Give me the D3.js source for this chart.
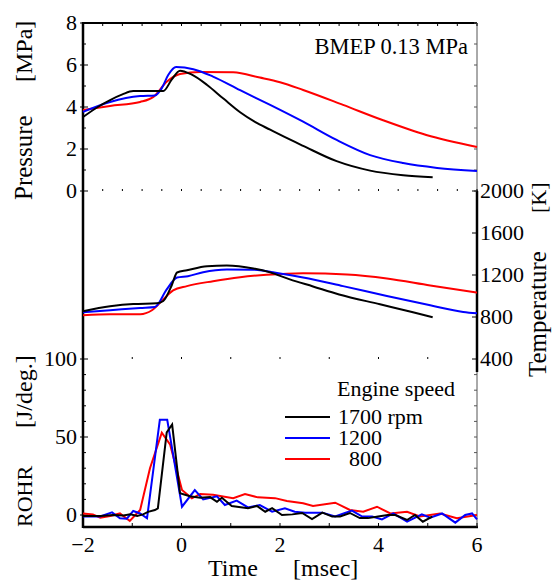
<!DOCTYPE html>
<html>
<head>
<meta charset="utf-8">
<script src="https://cdn.jsdelivr.net/npm/d3@7"></script>
<style>
  body { margin: 0; background: #fff; }
</style>
</head>
<body>
<div id="chart"></div>
<script>
// pressure [MPa] vs time [msec]
const press1700 = [[-2,3.52],[-1.7,4.0],[-1.45,4.33],[-1.2,4.6],[-0.98,4.76],[-0.6,4.76],[-0.37,4.76],[-0.2,5.3],[-0.03,5.73],[0.2,5.55],[0.52,5.05],[0.85,4.4],[1.19,3.75],[1.5,3.28],[1.8,2.92],[2.0,2.68],[2.47,2.15],[3.15,1.42],[3.83,0.97],[4.5,0.75],[5.1,0.65]];
const press1200 = [[-2,3.77],[-1.45,4.24],[-0.84,4.52],[-0.54,4.55],[-0.4,4.9],[-0.27,5.52],[-0.11,5.9],[0.24,5.8],[0.64,5.45],[1.19,4.8],[1.8,4.1],[2.47,3.3],[3.15,2.43],[3.83,1.71],[4.5,1.33],[5.19,1.1],[6,0.95]];
const press800 = [[-2,3.86],[-1.45,4.05],[-0.84,4.24],[-0.57,4.48],[-0.3,5.2],[-0.03,5.57],[0.38,5.67],[1.05,5.65],[1.59,5.4],[2.0,5.18],[2.47,4.81],[3.28,4.1],[4.08,3.38],[4.97,2.67],[6,2.1]];

// temperature [K]
const temp1700 = [[-2,855],[-1.45,902],[-0.98,924],[-0.5,930],[-0.37,952],[-0.2,1100],[-0.09,1224],[0.11,1245],[0.52,1283],[0.92,1290],[1.46,1262],[1.8,1225],[2.2,1158],[2.67,1091],[3.2,1015],[4.03,921],[4.7,845],[5.1,798]];
const temp1200 = [[-2,845],[-1.45,864],[-0.84,886],[-0.54,895],[-0.3,1063],[-0.09,1176],[0.13,1189],[0.44,1227],[0.92,1252],[1.46,1250],[2.0,1215],[2.47,1176],[3.28,1094],[4.17,1000],[5.05,911],[5.72,848],[6,835]];
const temp800 = [[-2,817],[-1.45,826],[-0.84,826],[-0.6,864],[-0.37,968],[-0.17,1053],[0.11,1094],[0.64,1141],[1.19,1179],[1.73,1202],[2.47,1217],[3.36,1205],[4.17,1167],[5.05,1100],[6,1032]];

// rate of heat release [J/deg.]
const rohr1700 = [[-2,-0.6],[-1.65,-0.6],[-1.38,0],[-1.18,-0.3],[-1.04,0.4],[-0.9,-0.6],[-0.78,0.4],[-0.68,2],[-0.54,3.2],[-0.48,4.3],[-0.3,53],[-0.19,58],[-0.03,14],[0.17,12],[0.38,11],[0.58,11.5],[0.72,8.5],[0.82,11],[1.02,5.8],[1.35,4.4],[1.53,5.8],[1.7,2.1],[1.84,4.4],[2.04,0],[2.25,0.4],[2.45,1.3],[2.65,-2.6],[2.86,1.5],[3.06,-1],[3.22,-1],[3.42,1.3],[3.62,-2],[3.79,-2],[3.99,-1],[4.19,0],[4.34,0],[4.58,-3.2],[4.74,0],[4.9,-4.3],[5.09,-1]];
const rohr1200 = [[-2,-1],[-1.65,-1],[-1.41,1.7],[-1.25,-2.1],[-1.11,-2.4],[-0.98,2.6],[-0.84,1],[-0.7,-2.1],[-0.44,61],[-0.29,61],[0.01,5.3],[0.27,16],[0.44,10],[0.72,12],[0.88,6.4],[1.12,9.2],[1.35,4.9],[1.59,6.4],[1.84,2.1],[2.1,4.3],[2.3,2.1],[2.51,1.5],[2.86,1.5],[3.12,-1],[3.32,1.3],[3.46,2.8],[3.67,-1],[3.87,-1],[4.07,-2.8],[4.3,1],[4.58,-4.3],[4.88,0.4],[5.05,-1.7],[5.29,1],[5.56,-4.9],[5.76,0],[5.9,1],[6,-2.8]];
const rohr800 = [[-2,1],[-1.8,0.4],[-1.65,-1.7],[-1.45,-0.6],[-1.25,1],[-1.05,-3.8],[-0.84,3.2],[-0.64,30],[-0.4,52.7],[-0.23,45],[0.01,16],[0.21,10.7],[0.38,13.5],[0.64,13],[1.05,10.8],[1.29,13.4],[1.55,11.3],[1.9,10.8],[2.14,9],[2.47,7.5],[2.67,5.8],[3.12,7.9],[3.42,3.2],[3.69,2.1],[3.97,5.3],[4.24,1],[4.58,2.1],[4.84,-1],[5.25,0.9],[5.59,-2],[6,0]];

const speeds = ["1700 rpm", "1200", "\u2007800"];
const colors = ["#000000", "#0000ff", "#ff0000"];
const timeTicks = [-2, 0, 2, 4, 6];
const pressTicks = [0, 2, 4, 6, 8];
const tempTicks = [400, 800, 1200, 1600, 2000];
const rohrTicks = [0, 50, 100];

const width = 553, height = 581;
const mLeft = 83, mRight = 477, mTop = 23, mBottom = 527;
const fs = 22;   // tick labels, legend
const ft = 24;   // axis titles

const svg = d3.select("#chart").append("svg")
  .attr("width", width)
  .attr("height", height)
  .attr("font-family", "'Liberation Serif', 'DejaVu Serif', serif");

const x = d3.scaleLinear().domain([-2, 6]).range([mLeft, mRight]);
const yP = d3.scaleLinear().domain([0, 8]).range([191, mTop]);
const yT = d3.scaleLinear().domain([400, 2000]).range([359, 191]);
const yR = d3.scaleLinear().domain([0, 100]).range([515, 359]);

function tick(x1, y1, x2, y2, w, c) {
  svg.append("line")
    .attr("x1", x1).attr("y1", y1).attr("x2", x2).attr("y2", y2)
    .attr("stroke", c || "#000").attr("stroke-width", w || 1);
}

// frame lines
tick(mLeft, mTop, mRight, mTop, 2);                  // top
tick(mLeft, mTop - 1, mLeft, mBottom + 1, 2.5);      // left
tick(mLeft, mBottom, mRight + 1, mBottom, 2.5);      // bottom
tick(mRight, mTop, mRight, 191, 1, "#555");          // right, pressure panel
tick(mRight, 191, mRight, 372, 2.5);                 // right, temperature axis
tick(mRight, 372, mRight, mBottom, 1, "#555");       // right, rohr panel

// ticks along x
d3.range(-2, 6.001, 0.4).forEach(t => {
  tick(x(t), mTop, x(t), mTop + 3);
  tick(x(t), 191, x(t), 189);
});
d3.range(-2, 6.001, 1).forEach(t => {
  tick(x(t), 359, x(t), 357);
  tick(x(t), mBottom, x(t), mBottom - 4);
});

// pressure axis ticks
d3.range(0, 8.001, 1).forEach(v => {
  const big = pressTicks.includes(v);
  tick(mLeft - (big ? 3 : 0), yP(v), mLeft + (big ? 5 : 3), yP(v));
  tick(mRight, yP(v), mRight - 3, yP(v), 1, "#555");
});
// temperature axis ticks
tempTicks.forEach(v => tick(mRight - 5, yT(v), mRight + 1, yT(v)));
// rohr axis ticks
d3.range(0, 100.001, 10).forEach(v => {
  const big = rohrTicks.includes(v);
  tick(mLeft - (big ? 3 : 0), yR(v), mLeft + (big ? 5 : 3), yR(v));
  if (v < 100) tick(mRight, yR(v), mRight - 3, yR(v), 1, "#555");
});

// tick labels
svg.selectAll(".pl").data(pressTicks).join("text")
  .attr("x", mLeft - 6).attr("y", d => yP(d) + 7)
  .attr("text-anchor", "end").attr("font-size", fs).text(d => d);
svg.selectAll(".rl").data(rohrTicks).join("text")
  .attr("x", mLeft - 6).attr("y", d => yR(d) + 7)
  .attr("text-anchor", "end").attr("font-size", fs).text(d => d);
svg.selectAll(".tl").data(tempTicks).join("text")
  .attr("x", mRight + 3).attr("y", d => yT(d) + 7)
  .attr("text-anchor", "start").attr("font-size", fs).text(d => d);
svg.selectAll(".xl").data(timeTicks).join("text")
  .attr("x", d => x(d)).attr("y", 552)
  .attr("text-anchor", "middle").attr("font-size", fs)
  .text(d => d < 0 ? "\u2212" + Math.abs(d) : d);

// axis titles
function vlabel(tx, ty, s, size) {
  svg.append("text")
    .attr("transform", `translate(${tx},${ty}) rotate(-90)`)
    .attr("font-size", size).text(s);
}
vlabel(32, 200, "Pressure", 25);
vlabel(32, 82, "[MPa]", 24);
vlabel(32, 527, "ROHR", 22);
vlabel(32, 428, "[J/deg.]", 24);
vlabel(546, 377, "Temperature", 25);
vlabel(546, 213, "[K]", 22);

svg.append("text").attr("x", 208).attr("y", 576).attr("font-size", ft).text("Time");
svg.append("text").attr("x", 293).attr("y", 576).attr("font-size", ft).text("[msec]");

svg.append("text").attr("x", 468).attr("y", 54)
  .attr("text-anchor", "end").attr("font-size", 22.5).text("BMEP 0.13 MPa");

// curves
const lineP = d3.line().x(d => x(d[0])).y(d => yP(d[1])).curve(d3.curveMonotoneX);
const lineT = d3.line().x(d => x(d[0])).y(d => yT(d[1])).curve(d3.curveMonotoneX);
const lineR = d3.line().x(d => x(d[0])).y(d => yR(d[1]));

const pressAll = [press1700, press1200, press800];
const tempAll = [temp1700, temp1200, temp800];
const rohrAll = [rohr1700, rohr1200, rohr800];

// draw red first so black stays on top
[2, 1, 0].forEach(i => {
  svg.append("path").datum(pressAll[i]).attr("d", lineP)
    .attr("fill", "none").attr("stroke", colors[i]).attr("stroke-width", 2);
  svg.append("path").datum(tempAll[i]).attr("d", lineT)
    .attr("fill", "none").attr("stroke", colors[i]).attr("stroke-width", 2);
  svg.append("path").datum(rohrAll[i]).attr("d", lineR)
    .attr("fill", "none").attr("stroke", colors[i]).attr("stroke-width", 2);
});

// legend
const legend = svg.append("g");
legend.append("text").attr("x", 337).attr("y", 396).attr("font-size", fs).text("Engine speed");
speeds.forEach((s, i) => {
  const ly = 417 + i * 21;
  legend.append("line")
    .attr("x1", 285).attr("x2", 330).attr("y1", ly).attr("y2", ly)
    .attr("stroke", colors[i]).attr("stroke-width", 2);
  legend.append("text")
    .attr("x", 338).attr("y", ly + 7).attr("font-size", fs)
    .text(s);
});
</script>
</body>
</html>
